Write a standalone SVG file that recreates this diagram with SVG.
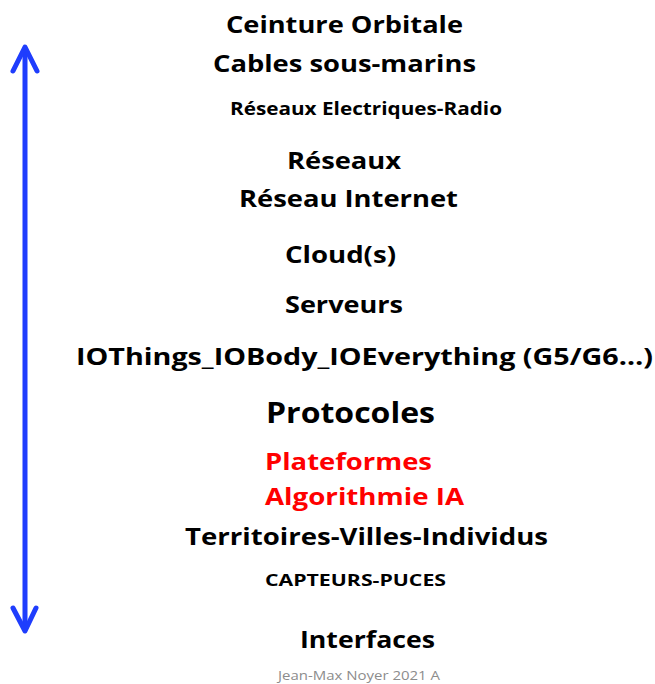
<svg xmlns="http://www.w3.org/2000/svg" width="655" height="684" viewBox="0 0 655 684">
<style>
.t{font-family:"Open Sans","Noto Sans","Liberation Sans",sans-serif;font-weight:bold;fill:#000}
.r{fill:#ff0000}
.f{font-family:"Open Sans","Noto Sans","Liberation Sans",sans-serif;font-size:12px;fill:#8c8c8c}
.ar{fill:none;stroke:#1f3dfd;stroke-width:5;stroke-linecap:round;stroke-linejoin:round}
</style>
<rect width="655" height="684" fill="#fff"/>
<g id="connectors">
<line class="ar" x1="25" y1="50" x2="25" y2="628"/>
<polyline class="ar" points="13,71 25,47 37,71"/>
<polyline class="ar" points="13,608 25,631 36,608"/>
</g>
<g id="n1"><text class="t" x="226" y="33" font-size="24" textLength="237" lengthAdjust="spacingAndGlyphs">Ceinture Orbitale</text></g>
<g id="n2"><text class="t" x="213" y="72" font-size="24" textLength="263" lengthAdjust="spacingAndGlyphs">Cables sous-marins</text></g>
<g id="n3"><text class="t" x="230" y="115" font-size="17" textLength="272" lengthAdjust="spacingAndGlyphs">Réseaux Electriques-Radio</text></g>
<g id="n4"><text class="t" x="287" y="169" font-size="24" textLength="114" lengthAdjust="spacingAndGlyphs">Réseaux</text></g>
<g id="n5"><text class="t" x="239" y="207" font-size="24" textLength="219" lengthAdjust="spacingAndGlyphs">Réseau Internet</text></g>
<g id="n6"><text class="t" x="285" y="263" font-size="24" textLength="111" lengthAdjust="spacingAndGlyphs">Cloud(s)</text></g>
<g id="n7"><text class="t" x="285" y="313" font-size="24" textLength="118" lengthAdjust="spacingAndGlyphs">Serveurs</text></g>
<g id="n8"><text class="t" x="76" y="365" font-size="24" textLength="577" lengthAdjust="spacingAndGlyphs">IOThings_IOBody_IOEverything (G5/G6…)</text></g>
<g id="n9"><text class="t" x="266" y="423" font-size="29" textLength="169" lengthAdjust="spacingAndGlyphs">Protocoles</text></g>
<g id="n10"><text class="t r" x="265" y="470" font-size="24" textLength="167" lengthAdjust="spacingAndGlyphs">Plateformes</text></g>
<g id="n11"><text class="t r" x="265" y="505" font-size="24" textLength="199" lengthAdjust="spacingAndGlyphs">Algorithmie IA</text></g>
<g id="n12"><text class="t" x="185" y="545" font-size="24" textLength="363" lengthAdjust="spacingAndGlyphs">Territoires-Villes-Individus</text></g>
<g id="n13"><text class="t" x="265" y="586" font-size="16" textLength="181" lengthAdjust="spacingAndGlyphs">CAPTEURS-PUCES</text></g>
<g id="n14"><text class="t" x="300" y="648" font-size="24" textLength="135" lengthAdjust="spacingAndGlyphs">Interfaces</text></g>
<text class="f" x="278" y="680" textLength="162" lengthAdjust="spacingAndGlyphs">Jean-Max Noyer 2021 A</text>
</svg>
